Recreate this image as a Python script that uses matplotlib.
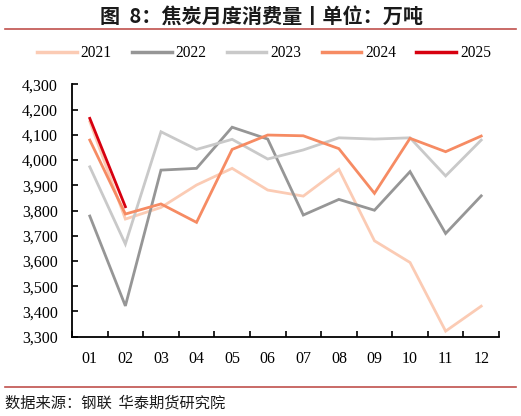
import matplotlib
matplotlib.use("Agg")
import matplotlib.pyplot as plt
from matplotlib.lines import Line2D

months = ["01", "02", "03", "04", "05", "06", "07", "08", "09", "10", "11", "12"]
y2021 = [4152, 3766, 3812, 3901, 3967, 3881, 3857, 3963, 3680, 3594, 3322, 3421]
y2022 = [3778, 3422, 3960, 3967, 4130, 4083, 3782, 3844, 3801, 3954, 3709, 3858]
y2023 = [3973, 3667, 4112, 4042, 4082, 4004, 4040, 4088, 4083, 4088, 3937, 4079]
y2024 = [4079, 3786, 3826, 3753, 4042, 4099, 4096, 4045, 3868, 4086, 4033, 4095]
y2025 = [4165, 3815]
yticks = [3300, 3400, 3500, 3600, 3700, 3800, 3900, 4000, 4100, 4200, 4300]

series = [("2021", y2021, "#FBCBB4"), ("2022", y2022, "#969696"),
          ("2023", y2023, "#C9C9C9"), ("2024", y2024, "#F68B63"),
          ("2025", y2025, "#D7000F")]

serif = ["Liberation Serif", "DejaVu Serif"]
cjk = ["Noto Sans CJK SC", "DejaVu Sans"]

fig = plt.figure(figsize=(5.21, 4.16), dpi=100)
W, H = 521, 416
ax = fig.add_axes([72 / W, 1 - 336.7 / H, (499 - 72) / W, (336.7 - 84.3) / H])

x = list(range(12))
for name, vals, col in series:
    ax.plot(x[:len(vals)], vals, color=col, lw=2.0, solid_joinstyle="miter", label=name)

ax.set_xlim(-0.5, 11.5)
ax.set_ylim(3300, 4300)
ax.set_yticks(yticks)
ax.set_yticklabels([f"{v:,}" for v in yticks], fontfamily=serif, fontsize=11.5)
ax.set_xticks(x)
ax.set_xticklabels(months, fontfamily=serif, fontsize=11.5)
ax.set_xticks([i - 0.5 for i in range(13)], minor=True)
ax.tick_params(axis="x", which="major", length=0, pad=10)
ax.tick_params(axis="x", which="minor", direction="in", length=4, width=1.2)
ax.tick_params(axis="y", direction="in", length=4, width=1.2, pad=10)
for s in ["top", "right"]:
    ax.spines[s].set_visible(False)
for s in ["left", "bottom"]:
    ax.spines[s].set_linewidth(1.3)
    ax.spines[s].set_color("#000000")

handles = [Line2D([], [], color=c, lw=2.5) for _, _, c in series]
leg = fig.legend(handles, [n for n, _, _ in series], loc="center",
                 bbox_to_anchor=(264 / W, 1 - 53 / H), ncol=5, frameon=False,
                 prop={"family": serif, "size": 11.2}, handlelength=2.55,
                 handletextpad=0.25, columnspacing=1.3, borderpad=0, borderaxespad=0)

fig.text(261 / W, 1 - 16 / H, "图  8：焦炭月度消费量丨单位：万吨", ha="center", va="center",
         fontsize=14.5, fontweight="bold", family=cjk, color="#1a1a1a")
fig.add_artist(Line2D([5 / W, 516 / W], [1 - 29 / H, 1 - 29 / H], color="#C0504D", lw=1.2))
fig.add_artist(Line2D([5 / W, 516 / W], [1 - 386.7 / H, 1 - 386.7 / H], color="#C0504D", lw=1.2))
fig.text(5 / W, 1 - 403 / H, "数据来源：钢联  华泰期货研究院", ha="left", va="center",
         fontsize=11, family=cjk, color="#1a1a1a")

fig.savefig("out.png", dpi=100)
